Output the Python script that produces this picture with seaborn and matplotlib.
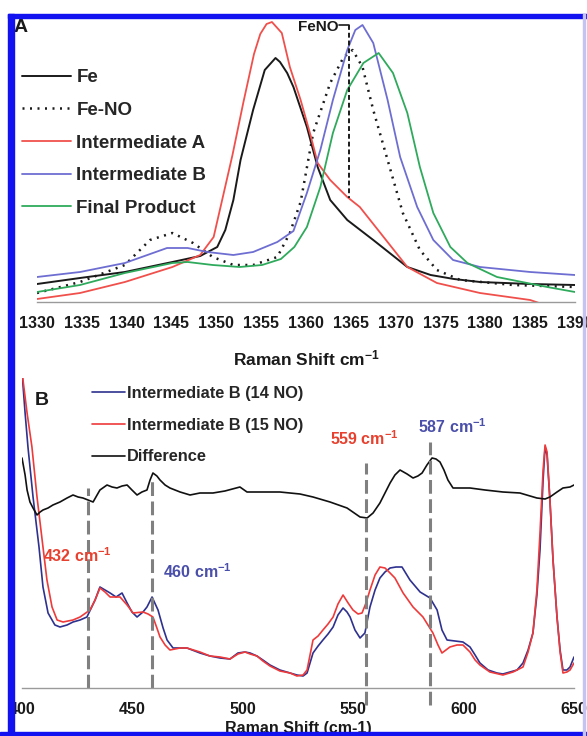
import matplotlib
matplotlib.use("Agg")
import matplotlib.pyplot as plt
from matplotlib.patches import Rectangle
import seaborn as sns

# Panel A: resonance Raman, 1330-1390 cm-1 (intensity in arbitrary units)
fe_x = [1330, 1334.8, 1339.8, 1345.1, 1348.2, 1350.1, 1351.0, 1351.9, 1352.7, 1354.1, 1355.4, 1356.6,
        1357.1, 1357.9, 1358.6, 1360.1, 1361.3, 1362.7, 1364.6, 1367.5, 1371.3, 1373.9, 1376.5, 1379.4,
        1385, 1390]
fe_y = [18, 24, 30, 40, 46, 55, 72, 102, 142, 192, 232, 244,
        240, 229, 215, 175, 135, 102, 82, 62, 35, 27, 23, 20,
        18, 17]

feno_x = [1330, 1334.8, 1339.8, 1342.6, 1345.1, 1347.4, 1349.6, 1351.9, 1354.1, 1356.8, 1358.2, 1359.4,
          1360.8, 1362.7, 1364.2, 1365.2, 1366.3, 1367.5, 1369.1, 1370.8, 1372.7, 1374.6, 1377.2, 1383.1,
          1390]
feno_y = [9, 20, 37, 62, 69, 59, 45, 37, 37, 45, 69, 100,
          169, 219, 245, 252, 235, 192, 142, 89, 52, 32, 22, 17,
          15]

int_a_x = [1330, 1334.8, 1339.8, 1345.1, 1348.2, 1349.7, 1350.7, 1351.8, 1353.0, 1354.2, 1354.9, 1355.6,
           1356.2, 1357.3, 1358.2, 1359.4, 1360.5, 1361.3, 1362.7, 1364.6, 1366.0, 1368.3, 1371.3, 1374.6,
           1379.4, 1385.0, 1387]
int_a_y = [3, 9, 20, 35, 47, 65, 104, 147, 199, 248, 268, 278,
           280, 269, 235, 202, 167, 139, 122, 105, 95, 69, 35, 19,
           9, 2, -4]

int_b_x = [1330, 1334.8, 1339.8, 1344.5, 1346.8, 1349.0, 1351.9, 1354.1, 1356.8, 1358.6, 1360.1, 1361.6,
           1363.0, 1364.6, 1365.5, 1366.3, 1367.5, 1369.1, 1370.5, 1372.4, 1374.2, 1376.4, 1379.4, 1385,
           1390]
int_b_y = [25, 30, 39, 54, 54, 50, 47, 50, 60, 71, 109, 152,
           202, 252, 272, 277, 259, 202, 145, 95, 62, 42, 35, 30,
           27]

final_x = [1330, 1334.8, 1339.8, 1345.1, 1346.8, 1349.6, 1352.6, 1355.1, 1357.2, 1358.7, 1360.1, 1361.6,
           1363.0, 1364.6, 1366.4, 1368.1, 1369.7, 1371.3, 1372.7, 1374.2, 1376.1, 1378.0, 1381.3, 1386.9,
           1390]
final_y = [10, 17, 29, 39, 40, 37, 35, 37, 43, 55, 75, 115,
           169, 212, 239, 249, 229, 189, 135, 89, 55, 39, 25, 15,
           10]

feno_marker_x = 1364.8
feno_marker_y = [277, 104]

# Panel B: 400-650 cm-1, 14NO / 15NO and difference
b14_x = [400.0, 401.4, 402.7, 405.0, 407.7, 409.5, 411.8, 414.9, 417.2, 420.4, 423.1, 426.3,
         429.4, 433.1, 435.3, 437.6, 439.9, 442.6, 445.3, 447.6, 449.8, 452.1, 454.8, 456.6,
         458.9, 461.6, 463.9, 465.7, 468.4, 471.6, 474.7, 480.6, 485.1, 489.7, 494.2, 497.8,
         501.0, 503.3, 506.4, 509.1, 512.3, 516.8, 521.4, 524.5, 527.3, 529.1, 531.8, 534.1,
         536.3, 538.6, 540.9, 543.1, 545.4, 547.2, 548.6, 550.8, 553.1, 555.3, 557.6, 559.9,
         562.1, 564.4, 566.7, 569.4, 572.1, 575.7, 580.3, 584.8, 588.0, 590.2, 592.5, 596.1,
         599.7, 602.9, 605.2, 607.4, 611.1, 615.1, 617.8, 621.0, 624.2, 626.9, 629.2, 631.4,
         633.2, 634.6, 636.0, 636.9, 637.8, 639.1, 640.5, 642.3, 643.7, 645.0, 646.8, 648.2,
         650.0]
b14_y = [316, 275, 241, 191, 141, 101, 75, 63, 61, 63, 66, 68,
         71, 88, 101, 98, 95, 91, 95, 85, 76, 71, 76, 81,
         91, 78, 60, 48, 40, 40, 40, 35, 32, 30, 29, 35,
         36, 35, 32, 28, 23, 18, 15, 13, 12, 15, 35, 42,
         48, 54, 61, 73, 80, 76, 71, 58, 50, 55, 81, 98,
         110, 116, 120, 121, 121, 108, 96, 90, 78, 58, 48, 47,
         46, 41, 33, 25, 18, 15, 14, 16, 18, 25, 38, 55,
         93, 138, 208, 241, 233, 188, 128, 71, 38, 18, 18, 21,
         31]

b15_x = [400.0, 402.3, 404.5, 406.8, 409.5, 411.3, 413.6, 415.9, 418.6, 423.1, 426.3, 430.8,
         433.1, 435.3, 437.6, 439.9, 444.4, 447.6, 450.3, 454.8, 457.1, 459.3, 461.1, 462.5,
         464.8, 467.0, 471.6, 474.7, 480.6, 485.1, 489.7, 494.2, 497.8, 501.0, 503.3, 506.4,
         509.1, 512.3, 516.8, 521.4, 524.5, 527.3, 529.1, 531.8, 534.1, 536.3, 538.6, 540.9,
         543.1, 545.4, 547.7, 549.9, 552.2, 554.0, 555.8, 557.6, 559.9, 562.1, 564.4, 566.7,
         568.9, 572.6, 577.1, 581.6, 586.1, 588.4, 590.2, 592.0, 593.8, 597.0, 599.7, 602.9,
         605.2, 607.4, 611.9, 617.8, 622.4, 626.9, 629.2, 631.4, 633.2, 634.6, 636.0, 636.9,
         637.8, 639.1, 640.5, 642.3, 643.7, 645.0, 646.8, 648.2, 650.0]
b15_y = [316, 275, 241, 191, 141, 108, 81, 68, 66, 68, 71, 78,
         88, 100, 96, 91, 91, 83, 75, 76, 74, 71, 60, 51,
         43, 38, 40, 40, 36, 32, 31, 29, 34, 36, 34, 32,
         27, 22, 17, 15, 12, 13, 18, 48, 52, 58, 64, 71,
         84, 93, 85, 78, 74, 75, 85, 98, 113, 121, 120, 115,
         110, 95, 81, 71, 55, 43, 35, 38, 41, 43, 43, 36,
         28, 23, 16, 13, 16, 21, 36, 55, 98, 155, 218, 243,
         236, 188, 128, 71, 36, 15, 16, 18, 25]

diff_x = [400.0, 401.4, 402.3, 403.6, 405.0, 406.8, 408.2, 409.5, 411.8, 414.0, 417.2, 420.4,
          423.1, 425.4, 427.6, 429.9, 432.2, 434.0, 435.3, 438.5, 440.8, 443.0, 445.3, 447.6,
          449.8, 452.1, 454.3, 456.6, 458.0, 459.3, 461.1, 462.5, 464.8, 467.0, 471.6, 476.1,
          480.6, 486.5, 491.9, 498.7, 501.9, 507.8, 516.8, 525.9, 531.8, 539.5, 547.2, 553.1,
          556.3, 559.0, 562.1, 564.4, 566.7, 568.9, 571.2, 574.4, 577.1, 579.3, 581.2, 583.4,
          585.7, 587.5, 589.3, 591.1, 592.9, 595.2, 598.4, 602.9, 609.7, 617.8, 625.5, 630.1,
          633.2, 636.9, 639.1, 642.3, 645.0, 648.2, 650.0]
diff_y = [230, 213, 198, 186, 180, 173, 176, 178, 180, 183, 186, 190,
          193, 191, 190, 188, 186, 193, 198, 203, 201, 200, 202, 203,
          198, 193, 196, 198, 208, 215, 212, 208, 203, 200, 196, 193,
          195, 195, 197, 201, 196, 196, 196, 194, 191, 186, 180, 171,
          170, 175, 185, 195, 205, 213, 218, 214, 210, 212, 215, 223,
          230, 229, 226, 218, 208, 200, 200, 200, 198, 196, 195, 192,
          190, 189, 191, 196, 200, 201, 203]

peak_x = [430, 459, 556, 585]
peak_top = [200, 210, 225, 246]
peak_bottom = [0, 0, -17, -17]
peak_labels = ["432 cm$^{-1}$", "460 cm$^{-1}$", "559 cm$^{-1}$", "587 cm$^{-1}$"]
peak_label_x = [409.5, 463.9, 539.5, 579.3]
peak_label_y = [126, 110, 243, 255]

RED_B = "#EE3A3A"
BLUE_B = "#2E318E"
RED_TXT = "#E8402E"
BLUE_TXT = "#4A4FAA"

sns.set_style("white")
plt.rcParams["font.family"] = ["Liberation Sans", "DejaVu Sans"]
plt.rcParams["font.weight"] = "bold"
plt.rcParams["mathtext.fontset"] = "custom"
plt.rcParams["mathtext.rm"] = "Liberation Sans:bold"
plt.rcParams["mathtext.default"] = "rm"

W, H = 587, 736
fig = plt.figure(figsize=(W / 100, H / 100), dpi=100)
fig.patch.set_facecolor("white")


def px_rect(left, top, right, bottom):
    return [left / W, 1 - bottom / H, (right - left) / W, (bottom - top) / H]


def style_axis(ax):
    for side in ["left", "right", "top"]:
        ax.spines[side].set_visible(False)
    ax.spines["bottom"].set_color("#9a9a9a")
    ax.spines["bottom"].set_linewidth(1.0)
    ax.set_yticks([])
    ax.tick_params(axis="x", direction="out", length=4, width=1, color="#9a9a9a",
                   pad=6, labelsize=11.5, labelcolor="#1a1a1a")
    for lab in ax.get_xticklabels():
        lab.set_fontweight("bold")
    ax.set_facecolor("white")
    ax.set_ylabel("")


# ---------- panel A ----------
axA = fig.add_axes(px_rect(37, 18, 575, 302))
sns.lineplot(x=fe_x, y=fe_y, ax=axA, color="#1a1a1a", lw=1.4, label="Fe", estimator=None)
sns.lineplot(x=feno_x, y=feno_y, ax=axA, color="#1a1a1a", lw=1.8, linestyle=(0, (0.8, 2.2)),
             label="Fe-NO", estimator=None)
sns.lineplot(x=int_a_x, y=int_a_y, ax=axA, color="#F0504C", lw=1.3, label="Intermediate A", estimator=None)
sns.lineplot(x=int_b_x, y=int_b_y, ax=axA, color="#6E6ED2", lw=1.3, label="Intermediate B", estimator=None)
sns.lineplot(x=final_x, y=final_y, ax=axA, color="#2FAA5C", lw=1.3, label="Final Product", estimator=None)

axA.plot([1363.7, feno_marker_x], [feno_marker_y[0], feno_marker_y[0]], color="#1a1a1a", lw=1.2)
axA.plot([feno_marker_x, feno_marker_x], feno_marker_y, color="#1a1a1a", lw=1.4,
         linestyle=(0, (2.5, 1.5)))
axA.text(1363.6, 271, "FeNO", ha="right", va="baseline", fontsize=11, fontweight="bold", color="#1a1a1a")

axA.set_xlim(1330, 1390)
axA.set_ylim(0, 284)
axA.set_xticks(range(1330, 1391, 5))
style_axis(axA)
axA.set_xlabel("Raman Shift cm$^{-1}$", fontsize=12.5, fontweight="bold", labelpad=13, color="#1a1a1a")

axA.legend(loc="upper left", bbox_to_anchor=(22 / W, 1 - 69 / H), bbox_transform=fig.transFigure,
           frameon=False, handlelength=2.6, handletextpad=0.3, labelspacing=0.83,
           borderpad=0, borderaxespad=0, prop={"weight": "bold", "size": 13.5})

# ---------- panel B ----------
axB = fig.add_axes(px_rect(22, 378, 574, 688))
sns.lineplot(x=b14_x, y=b14_y, ax=axB, color=BLUE_B, lw=1.2, label="Intermediate B (14 NO)", estimator=None)
sns.lineplot(x=b15_x, y=b15_y, ax=axB, color=RED_B, lw=1.2, label="Intermediate B (15 NO)", estimator=None)
sns.lineplot(x=diff_x, y=diff_y, ax=axB, color="#111111", lw=1.2, label="Difference", estimator=None)

for px, top, bot in zip(peak_x, peak_top, peak_bottom):
    axB.plot([px, px], [bot, top], color="#808080", lw=2.2, linestyle=(0, (4.5, 1.8)), clip_on=False)

label_colors = [RED_TXT, BLUE_TXT, RED_TXT, BLUE_TXT]
for lx, ly, txt, c in zip(peak_label_x, peak_label_y, peak_labels, label_colors):
    axB.text(lx, ly, txt, color=c, fontsize=11.5, fontweight="bold", ha="left", va="baseline")

axB.set_xlim(400, 650)
axB.set_ylim(0, 310)
axB.set_xticks(range(400, 651, 50))
style_axis(axB)
axB.set_xlabel("Raman Shift (cm-1)", fontsize=11.5, fontweight="bold", labelpad=3, color="#1a1a1a")

axB.legend(loc="upper left", bbox_to_anchor=(92 / W, 1 - 386 / H), bbox_transform=fig.transFigure,
           frameon=False, handlelength=2.0, handletextpad=0.15, labelspacing=1.02,
           borderpad=0, borderaxespad=0, prop={"weight": "bold", "size": 11.8})

# panel letters
fig.text(14 / W, 1 - 32 / H, "A", fontsize=14, fontweight="bold", color="#1a1a1a")
fig.text(35 / W, 1 - 405 / H, "B", fontsize=14, fontweight="bold", color="#1a1a1a")

# blue frame around the figure
frame_blue = "#1212F0"
fig.add_artist(Rectangle((8 / W, 0), 6 / W, (H - 14) / H, transform=fig.transFigure,
                         color=frame_blue, zorder=20))
fig.add_artist(Rectangle((8 / W, 1 - 18 / H), (W - 8) / W, 4 / H, transform=fig.transFigure,
                         color=frame_blue, zorder=20))
fig.add_artist(Rectangle((0, 0), 1, 4 / H, transform=fig.transFigure, color=frame_blue, zorder=20))
fig.add_artist(Rectangle((583 / W, 0), 2 / W, (H - 14) / H, transform=fig.transFigure,
                         color="#C4C4F2", zorder=20))

fig.savefig("out.png", dpi=100)
plt.close(fig)
